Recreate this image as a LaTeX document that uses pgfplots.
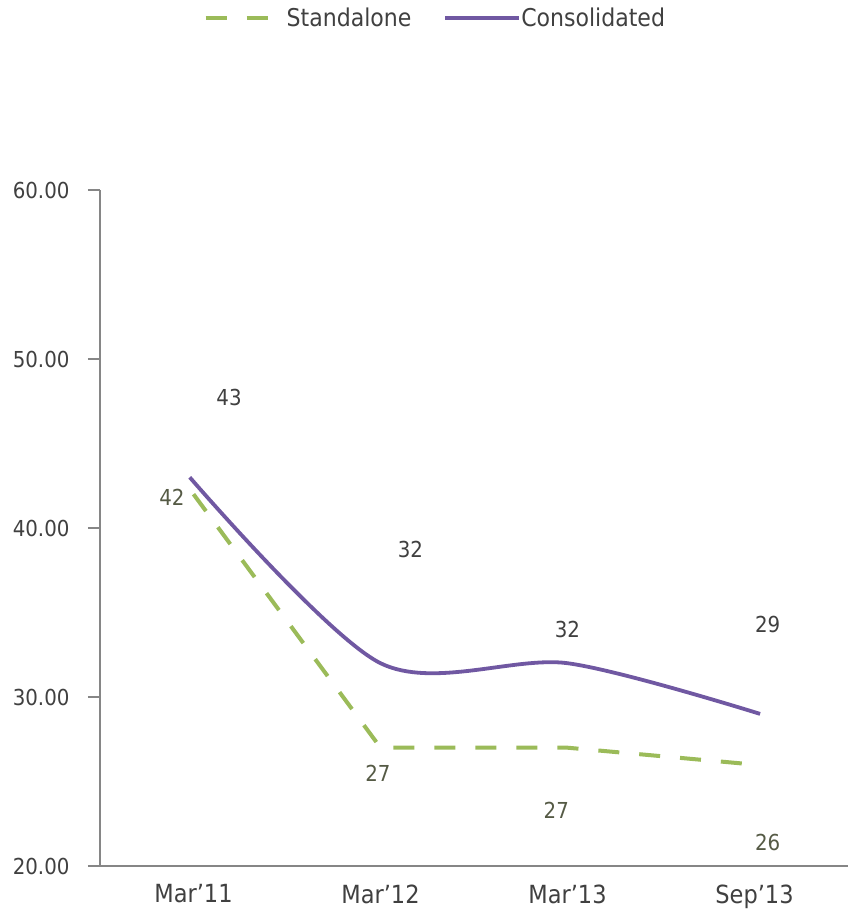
\documentclass[border=0pt]{standalone}
\usepackage{fontspec}
\setmainfont{DejaVu Sans Condensed}
\usepackage{pgfplots}
\pgfplotsset{compat=1.18}
\definecolor{cons}{HTML}{7058A2}
\definecolor{stand}{HTML}{9BBB59}
\definecolor{axisgray}{HTML}{868686}
\definecolor{txt}{HTML}{404040}
\definecolor{stxt}{HTML}{555A45}
\pgfplotsset{longline/.style={legend image code/.code={\draw[##1] (0pt,0pt) -- (74pt,0pt);}}}
\begin{document}
\begin{tikzpicture}[x=1pt,y=1pt]
\path[use as bounding box] (0,0) rectangle (848,914);
\begin{axis}[
  at={(100pt,48pt)}, anchor=south west,
  scale only axis, width=748pt, height=676pt,
  xmin=-0.5, xmax=3.5, ymin=20, ymax=60,
  axis x line*=bottom, axis y line*=left,
  axis line style={axisgray, line width=1.3pt},
  xtick={0,1,2,3},
  xticklabels={Mar’11,Mar’12,Mar’13,Sep’13},
  x tick style={draw=none},
  extra x ticks={1.5}, extra x tick labels={},
  extra x tick style={tick style={draw=axisgray, line width=1.3pt}, major tick length=14pt, tick align=center},
  ytick={20,30,40,50,60},
  y tick style={axisgray, line width=1.3pt},
  tick align=outside, major tick length=12pt,
  yticklabel style={font=\fontsize{22}{26}\selectfont, text=txt, xshift=-15pt,
    /pgf/number format/.cd, fixed, fixed zerofill, precision=2, assume math mode=true},
  xticklabel style={font=\fontsize{25}{29}\selectfont, text=txt, yshift=-3pt},
  legend style={at={(0.447,1.254)}, anchor=center, draw=none, fill=none,
    legend columns=2, font=\fontsize{24.5}{28}\selectfont, text=txt,
    nodes={inner xsep=0pt},
    /tikz/every even column/.append style={column sep=32pt}},
  legend image code/.code={\draw[#1] (0pt,0pt) -- (63pt,0pt);},
  clip=false,
]
\addplot[stand, line width=4pt, dash pattern=on 21pt off 20pt] coordinates {(0,42) (1,27) (2,27) (3,26)};
\addlegendentry{\hspace{16pt}Standalone}
\addplot[cons, line width=3.8pt, smooth, tension=0.5, longline] coordinates {(-0.02,43) (1,32) (2,32) (3.03,29)};
\addlegendentry{Consolidated}
\begin{scope}[every node/.style={font=\fontsize{22}{26}\selectfont}]
\node[txt] at (axis cs:0.19,47.7) {43};
\node[txt] at (axis cs:1.16,38.7) {32};
\node[txt] at (axis cs:2.0,34.0) {32};
\node[txt] at (axis cs:3.07,34.3) {29};
\node[stxt] at (axis cs:-0.115,41.8) {42};
\node[stxt] at (axis cs:0.986,25.5) {27};
\node[stxt] at (axis cs:1.94,23.3) {27};
\node[stxt] at (axis cs:3.07,21.4) {26};
\end{scope}
\end{axis}
\end{tikzpicture}
\end{document}
